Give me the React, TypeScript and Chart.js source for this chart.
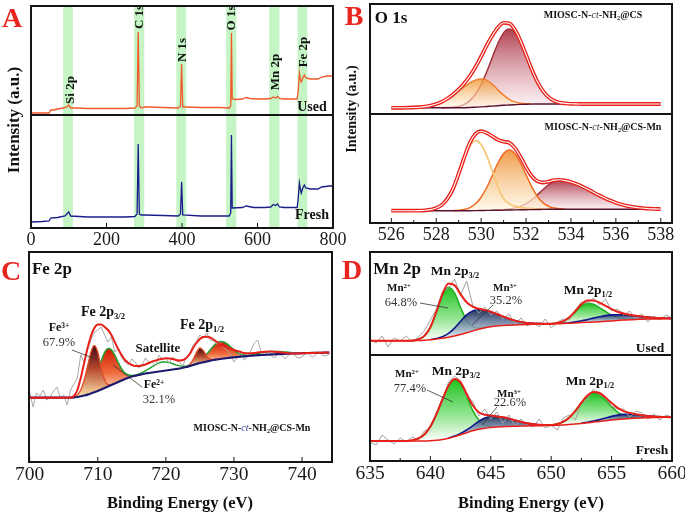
import React, { useEffect, useRef } from "react";
import { Chart, registerables } from "chart.js";
Chart.register(...registerables);

const SERIF = '"Liberation Serif", "Times New Roman", Times, serif';

// ================= Panel A : survey spectra =================
const surveyUsedEV = [0,30,48,52,60,70,85,95,100,105,120,150,200,250,275,281,284,287,292,300,310,350,390,396,399,402,410,450,500,525,529,531,533,545,560,570,580,600,620,635,642,648,653,658,670,690,705,708,711,714,716,720,724,728,740,760,770,785,800];
const surveyUsed = [2,2,2,5,5,6,7,8,10,7,7,6.5,6.5,6.5,7,9,83,9,7,8,8,7.5,7,9,51,8,8,7.5,7.5,7,9,82,16,15.5,16,17.5,16.5,16,16,16.5,18,17,18.5,16.5,16,16,16,25,42,35,33,37,40,37,36,36,38,39,39];
const surveyFreshEV = [0,30,48,52,70,90,100,105,150,200,250,275,281,284,287,292,300,350,390,396,399,402,450,500,525,529,531,533,560,570,590,620,635,642,648,653,658,670,705,708,711,714,716,720,724,728,740,760,770,790,800];
const surveyFresh = [6,6.5,7,10,10.5,12,16,12,11,11,11,11.5,14,84,14,13,13,12.5,12,14,46,13,12,12,12,15,93,20,20.5,22,20.5,20.5,21,23.5,22.5,24,21,20.5,20.5,30,45,38,35,40,43,40,39,39,41,42,42];
const bandLo = [85,273,385,517,631,706];
const bandHi = [111,300,411,544,658,732];
const A_OFF = 113;

// ================= Panel B : O 1s =================
const B_G0 = 526, B_ST = 0.25, B_OFF = 109;
const bTopBase = [6.2,6.2,6.2,6.2,6.2,6.2,6.2,6.2,6.2,6.2,6.2,6.2,6.2,6.3,6.5,6.8,7.1,7.5,7.9,8.3,8.7,9.0,9.3,9.6,9.8,9.9,10,10,10,10,10,10,10,10,10,10,10,10,10,10,10,10,10,10,10,10,10,10,10];
const bTopOrangeStart = 526.75;
const bTopOrange = [0.1,0.3,0.6,1.2,2.2,3.8,6.0,9.1,12.8,17.0,21.1,24.7,27.1,28,26.3,21.7,15.8,10.1,5.7,2.8,1.2,0.5,0.2];
const bTopRedStart = 528.25;
const bTopRed = [0.1,0.2,0.6,1.4,3.3,6.9,13.1,22.4,34.8,48.9,62.5,72.4,76,72.4,62.5,48.9,34.8,22.4,13.1,6.9,3.3,1.4,0.6,0.2,0.1];
const bBotBase = [12.3,12.3,12.3,12.3,12.3,12.3,12.3,12.3,12.3,12.3,12.3,12.3,12.3,12.3,12.3,12.4,12.5,12.6,12.7,12.8,12.9,13.0,13.1,13.2,13.3,13.4,13.5,13.6,13.7,13.7,13.7,13.7,13.7,13.7,13.7,13.7,13.7,13.7,13.7,13.7,13.7,13.7,13.7,13.7,13.7,13.7,13.7,13.7,13.7];
const bBotLightStart = 527.25;
const bBotLight = [0.1,0.4,1.1,2.6,5.8,12,22,36.5,52,65,70,66,54.5,39,23,11.5,6.3,3.7,2.3,1.5,0.9,0.6,0.4,0.2,0.1];
const bBotOrangeStart = 528.75;
const bBotOrange = [0.1,0.5,1.3,3.1,6.8,13.3,22.9,34.9,47.2,56.5,60,56.5,47.2,34.9,22.9,13.3,6.8,3.1,1.3,0.5,0.1];
const bBotRedStart = 530.5;
const bBotRed = [0.1,0.2,0.4,0.9,1.8,3.5,6.1,9.8,14.5,19.7,24.4,27.8,29,28.6,27.3,25.4,22.9,20.0,17.0,14.0,11.2,8.7,6.6,4.8,3.4,2.4,1.6,1.0,0.6,0.4,0.2];

// ================= Panel C : Fe 2p =================
const C_G0 = 700, C_ST = 0.5;
const cBase = [64.3,64.3,64.3,64.3,64.3,64.3,64.3,64.3,64.3,64.3,64.3,64.3,64.3,
  64.5,65,65.7,66.5,67.4,68.5,69.7,71,72.5,74,
  75.5,77,78.5,80,81.5,83,84.3,85.5,86.3,87,
  87.8,88.5,89,89.5,90,90.5,91,91.5,92,92.5,
  93,93.5,94.2,95,96,97,98,99,99.8,100.5,
  101.3,102,102.5,103,103.5,104,104.4,104.7,105,105.3,
  105.7,106,106.3,106.5,106.8,107,107.2,107.4,107.6,107.7,
  107.9,108,108.2,108.3,108.5,108.6,108.7,108.8,108.9,109,
  109.1,109.2,109.25,109.3,109.35,109.4];
const cEnv = [64.3,64.3,64.3,64.3,64.3,64.3,64.3,64.3,64.3,64.3,64.3,64.3,
  64.5,66,72,84,99,114,126,134,137.5,137.5,
  135,132,127,120,113,107,102,99,97,96,
  96,96.5,97.5,99,100.5,101.5,102.5,103.3,103.7,103.5,
  103,102,101.5,102,104,108,114,119,123,125,
  125.3,124.5,122.5,120,118,116,114.5,113.5,112,111,
  110,109,108.7,108.7,109,109.5,110,110.3,110.5,110.5,
  110.3,110,109.6,109.2,108.8,108.5,108.4,108.5,108.7,108.8,
  109,109,109.2,109.3,109.3,109.4,109.4];
const cRaw = [70,55,69,66,72,62,65,71,75,64,
  67,57,72,78,84,107,100,112,122,130,
  132,135,127,120,125,110,114,104,100,97,
  103,100,94,97,104,99,100,96,107,102,
  104,99,105,101,100,96,105,108,117,121,
  127,124,129,122,121,118,120,114,112,107,
  100,104,110,102,105,112,119,122,110,107,
  110,106,104,109,107,103,107,110,106,104,
  105,109,108,105,107,110,107,106,108];
const cFe3aStart = 706.5;
const cFe3a = [0.5,2.1,6.3,15.3,28.5,41.5,47,38.7,21.5,8.1,2.1,0.4];
const cFe2aStart = 707.5;
const cFe2a = [0.3,1.0,2.7,6.0,11.6,19.5,28.3,35.3,38,35.3,28.3,19.5,11.6,6.0,2.7,1.0,0.3];
const cSat1Start = 715.5;
const cSat1 = [0.4,0.8,1.5,2.7,4.1,5.8,7.4,8.6,9,8.6,7.4,5.8,4.1,2.7,1.5,0.8,0.4];
const cFe3bStart = 723;
const cFe3b = [0.3,1.5,5.4,11.6,15,11.6,5.4,1.5,0.3];
const cFe2bStart = 723.5;
const cFe2b = [0.2,0.5,1.2,2.4,4.4,7.2,10.6,14.0,16.6,17.5,16.6,14.0,10.6,7.2,4.4,2.4,1.2,0.5,0.2];
const cSat2Start = 732.5;
const cSat2 = [1.0,1.4,1.8,2.3,2.6,2.9,3,2.9,2.6,2.3,1.8,1.4,1.0];

// ================= Panel D : Mn 2p =================
const D_G0 = 635, D_ST = 0.5, D_OFF = 106;
const dTopBase = [14.3,14.3,14.3,14.3,14.3,14.3,14.3,14.3,
  14.5,14.8,15.3,16,16.8,17.8,19,20.5,22.2,24,
  25.8,27.2,28.2,28.9,29.4,29.8,30.1,30.3,30.5,30.7,
  30.9,31,31.1,31.3,31.5,31.8,32.1,32.4,32.7,33,
  33.3,33.7,34.1,34.5,34.9,35.2,35.5,35.7,35.9,36,
  36.1,36.2,36.3];
const dTopRaw = [16,12,19,8,17,14,19,13,18,24,35,46,63,67,76,60,74,50,42,48,40,44,36,41,31,37,29,33,28,36,27,33,36,35,45,53,52,57,50,56,44,46,40,44,36,41,33,39,35,40,37];
const dTopMn2aStart = 638.5;
const dTopMn2a = [0.2,1.1,4.3,12.5,27,42.9,50,42.9,27,12.5,4.3,1.1,0.2];
const dTopMn3aStart = 640;
const dTopMn3a = [0.1,0.5,1.5,3.8,7.9,13.2,18,20,19.4,17.6,15.1,12.1,9.2,6.5,4.3,2.7,1.6,0.9,0.5,0.2];
const dTopMn2bStart = 650;
const dTopMn2b = [0.1,0.6,2.1,5.5,10.9,16.5,19,17.7,14.1,9.8,5.8,3.0,1.3,0.5,0.2];
const dTopMn3bStart = 651;
const dTopMn3b = [0.3,0.5,1.0,1.8,2.7,3.9,4.9,5.7,6,5.8,5.3,4.5,3.6,2.7,2.0,1.3,0.8,0.5,0.3];
const dBotBase = [20,20,20,20,20,20,20,20,20,20,
  20.3,20.8,21.6,22.8,24.4,26.3,28.3,30.2,31.7,32.8,
  33.5,34,34.3,34.6,34.8,35,35.1,35.2,35.3,35.4,
  35.5,35.7,36,36.4,36.9,37.5,38.2,38.9,39.6,40.3,
  41,41.6,42.1,42.5,42.8,43.1,43.3,43.5,43.6,43.7,
  43.7];
const dBotRaw = [19,16,26,21,17,23,19,24,21,30,33,49,58,79,85,80,64,60,45,52,42,49,38,46,35,42,36,34,42,33,36,31,43,46,41,58,62,72,66,64,55,52,52,44,50,48,42,47,41,46,44];
const dBotMn2aStart = 638.5;
const dBotMn2a = [0.8,2.5,6.5,14.2,26.1,40.3,52.3,57,50.9,36.2,20.5,9.3,3.4,1.0];
const dBotMn3aStart = 641.5;
const dBotMn3a = [0.2,0.5,1.3,2.7,5.0,7.8,10.1,11,10.6,9.4,7.8,5.9,4.2,2.7,1.7,0.9,0.5];
const dBotMn2bStart = 650;
const dBotMn2b = [0.4,1.3,3.3,7.2,13.3,20.5,26.6,29,26.6,20.5,13.3,7.2,3.3,1.3,0.4];
const dBotMn3bStart = 652.5;
const dBotMn3b = [0.3,0.6,1.1,1.8,2.7,3.6,4.3,4.5,4.3,3.6,2.7,1.8,1.1,0.6,0.3];

// ================= helpers =================
type Pt = { x: number; y: number };
type Comp = [number, number[]];

function pairPts(xs: number[], ys: number[], off: number): Pt[] {
  return xs.map((x, i) => ({ x, y: ys[i] + off }));
}
function gridPts(g0: number, st: number, ys: number[], off: number): Pt[] {
  return ys.map((y, i) => ({ x: g0 + i * st, y: y + off }));
}
function onBase(x0: number, vals: number[], g0: number, st: number, base: number[], off: number): Pt[] {
  return vals.map((v, i) => {
    const x = x0 + i * st;
    const k = Math.round((x - g0) / st);
    return { x, y: base[k] + v + off };
  });
}
function envelope(base: number[], g0: number, st: number, comps: Comp[]): number[] {
  return base.map((b, k) => {
    const x = g0 + k * st;
    let s = b;
    comps.forEach(([x0, vals]) => {
      const j = Math.round((x - x0) / st);
      if (j >= 0 && j < vals.length) s += vals[j];
    });
    return s;
  });
}
function vgrad(stops: [number, string][], yTop: number, yBot: number) {
  return (c: any) => {
    const chart = c.chart;
    const ys = chart.scales && chart.scales.y;
    if (!ys || !chart.chartArea) return stops[0][1];
    const g = chart.ctx.createLinearGradient(0, ys.getPixelForValue(yTop), 0, ys.getPixelForValue(yBot));
    stops.forEach(([o, col]) => g.addColorStop(o, col));
    return g;
  };
}
function lineDS(data: Pt[], color: string, width: number, smooth = true): any {
  return {
    data, borderColor: color, borderWidth: width, pointRadius: 0, fill: false,
    cubicInterpolationMode: smooth ? "monotone" : "default", tension: 0,
  };
}
function compDS(x0: number, vals: number[], g0: number, st: number, base: number[], off: number,
  color: string, width: number, stops: [number, string][] | null, baseIdx: number): any {
  const data = onBase(x0, vals, g0, st, base, off);
  const yTop = Math.max(...data.map((p) => p.y));
  const yBot = Math.min(...vals.map((_, i) => base[Math.round((x0 + i * st - g0) / st)])) + off;
  return {
    data, borderColor: color, borderWidth: width, pointRadius: 0,
    cubicInterpolationMode: "monotone",
    fill: stops ? baseIdx : false,
    backgroundColor: stops ? vgrad(stops, yTop, yBot) : "transparent",
  };
}

const RED = "#e8201a";

// ---------- dataset builders ----------
function buildA(): any[] {
  return [
    lineDS(pairPts(surveyUsedEV, surveyUsed, A_OFF), "#f05a28", 1.3, false),
    lineDS(pairPts(surveyFreshEV, surveyFresh, 0), "#1c1c8c", 1.3, false),
  ];
}

function buildB(): any[] {
  const topEnv = envelope(bTopBase, B_G0, B_ST, [[bTopOrangeStart, bTopOrange], [bTopRedStart, bTopRed]]);
  const botEnv = envelope(bBotBase, B_G0, B_ST, [[bBotLightStart, bBotLight], [bBotOrangeStart, bBotOrange], [bBotRedStart, bBotRed]]);
  const orangeStops: [number, string][] = [[0, "rgba(240,150,50,0.85)"], [1, "rgba(255,246,228,0.55)"]];
  const redStops: [number, string][] = [[0, "rgba(172,56,72,0.95)"], [1, "rgba(252,236,240,0.6)"]];
  const orange2Stops: [number, string][] = [[0, "rgba(238,150,64,0.95)"], [1, "rgba(255,246,222,0.7)"]];
  return [
    lineDS(gridPts(B_G0, B_ST, topEnv, B_OFF), "#ffffff", 1.1),
    lineDS(gridPts(B_G0, B_ST, topEnv, B_OFF), RED, 3.8),
    lineDS(gridPts(B_G0, B_ST, botEnv, 0), "#ffffff", 1.1),
    lineDS(gridPts(B_G0, B_ST, botEnv, 0), RED, 3.8),
    lineDS(gridPts(B_G0, B_ST, bTopBase, B_OFF), "#5a1030", 1.4), // 4
    lineDS(gridPts(B_G0, B_ST, bBotBase, 0), "#5a1030", 1.4), // 5
    compDS(bTopOrangeStart, bTopOrange, B_G0, B_ST, bTopBase, B_OFF, "#f08030", 1.5, orangeStops, 4),
    compDS(bTopRedStart, bTopRed, B_G0, B_ST, bTopBase, B_OFF, "#a8303e", 1.5, redStops, 4),
    compDS(bBotLightStart, bBotLight, B_G0, B_ST, bBotBase, 0, "#f7c87a", 1.8, null, 5),
    compDS(bBotOrangeStart, bBotOrange, B_G0, B_ST, bBotBase, 0, "#f06a20", 1.5, orange2Stops, 5),
    compDS(bBotRedStart, bBotRed, B_G0, B_ST, bBotBase, 0, "#a8303e", 1.5, redStops, 5),
  ];
}

function buildC(): any[] {
  const fe3Stops: [number, string][] = [[0, "#3e0816"], [0.45, "#b8482e"], [1, "rgba(252,228,172,0.95)"]];
  const fe2Stops: [number, string][] = [[0, "#d01a08"], [0.5, "#ef6a3a"], [1, "rgba(255,236,216,0.9)"]];
  return [
    lineDS(gridPts(C_G0, C_ST, cEnv, 0), RED, 2),
    lineDS(gridPts(C_G0, C_ST, cBase, 0), "#1e1a6e", 2.2), // 1
    lineDS(gridPts(C_G0, C_ST, cRaw, 0), "#a8a8a8", 1, false),
    compDS(cSat1Start, cSat1, C_G0, C_ST, cBase, 0, "#22a030", 1.5, null, 1),
    compDS(cSat2Start, cSat2, C_G0, C_ST, cBase, 0, "#22a030", 1.5, null, 1),
    compDS(cFe3aStart, cFe3a, C_G0, C_ST, cBase, 0, "#e04a20", 1.3, fe3Stops, 1),
    compDS(cFe3bStart, cFe3b, C_G0, C_ST, cBase, 0, "#e04a20", 1.3, fe3Stops, 1),
    compDS(cFe2aStart, cFe2a, C_G0, C_ST, cBase, 0, "#22a030", 1.6, fe2Stops, 1),
    compDS(cFe2bStart, cFe2b, C_G0, C_ST, cBase, 0, "#22a030", 1.6, fe2Stops, 1),
  ];
}

function buildD(): any[] {
  const topEnv = envelope(dTopBase, D_G0, D_ST, [[dTopMn2aStart, dTopMn2a], [dTopMn3aStart, dTopMn3a], [dTopMn2bStart, dTopMn2b], [dTopMn3bStart, dTopMn3b]]);
  const botEnv = envelope(dBotBase, D_G0, D_ST, [[dBotMn2aStart, dBotMn2a], [dBotMn3aStart, dBotMn3a], [dBotMn2bStart, dBotMn2b], [dBotMn3bStart, dBotMn3b]]);
  const green: [number, string][] = [[0, "#1fc21f"], [0.55, "rgba(120,222,120,0.85)"], [1, "rgba(255,255,255,0.9)"]];
  const navy: [number, string][] = [[0, "#25365e"], [0.5, "rgba(120,140,172,0.85)"], [1, "rgba(245,248,252,0.9)"]];
  return [
    lineDS(gridPts(D_G0, D_ST, topEnv, D_OFF), RED, 2),
    lineDS(gridPts(D_G0, D_ST, botEnv, 0), RED, 2),
    lineDS(gridPts(D_G0, D_ST, dTopBase, D_OFF), RED, 1.5), // 2
    lineDS(gridPts(D_G0, D_ST, dBotBase, 0), RED, 1.5), // 3
    lineDS(gridPts(D_G0, D_ST, dTopRaw, D_OFF), "#a0a0a0", 1, false),
    lineDS(gridPts(D_G0, D_ST, dBotRaw, 0), "#a0a0a0", 1, false),
    compDS(dTopMn3aStart, dTopMn3a, D_G0, D_ST, dTopBase, D_OFF, "#10188a", 1.6, navy, 2),
    compDS(dTopMn3bStart, dTopMn3b, D_G0, D_ST, dTopBase, D_OFF, "#10188a", 1.6, navy, 2),
    compDS(dBotMn3aStart, dBotMn3a, D_G0, D_ST, dBotBase, 0, "#10188a", 1.6, navy, 3),
    compDS(dBotMn3bStart, dBotMn3b, D_G0, D_ST, dBotBase, 0, "#10188a", 1.6, navy, 3),
    compDS(dTopMn2aStart, dTopMn2a, D_G0, D_ST, dTopBase, D_OFF, "#22b022", 1.6, green, 2),
    compDS(dTopMn2bStart, dTopMn2b, D_G0, D_ST, dTopBase, D_OFF, "#22b022", 1.6, green, 2),
    compDS(dBotMn2aStart, dBotMn2a, D_G0, D_ST, dBotBase, 0, "#22b022", 1.6, green, 3),
    compDS(dBotMn2bStart, dBotMn2b, D_G0, D_ST, dBotBase, 0, "#22b022", 1.6, green, 3),
  ];
}

// ---------- frame plugin ----------
function makeFrame(divider: number | null, bands: [number, number][]) {
  return {
    id: "frame",
    beforeDatasetsDraw(chart: any) {
      const { ctx, chartArea: ca, scales } = chart;
      const x = scales.x;
      ctx.save();
      ctx.fillStyle = "rgba(150,236,150,0.55)";
      bands.forEach(([a, b]) => {
        const xa = x.getPixelForValue(a), xb = x.getPixelForValue(b);
        ctx.fillRect(xa, ca.top, xb - xa, ca.bottom - ca.top);
      });
      ctx.restore();
    },
    afterDatasetsDraw(chart: any) {
      const { ctx, chartArea: ca, scales } = chart;
      const x = scales.x, y = scales.y;
      ctx.save();
      ctx.strokeStyle = "#151515";
      ctx.lineWidth = 2;
      ctx.strokeRect(ca.left, ca.top, ca.right - ca.left, ca.bottom - ca.top);
      if (divider !== null) {
        const yy = y.getPixelForValue(divider);
        ctx.beginPath();
        ctx.moveTo(ca.left, yy);
        ctx.lineTo(ca.right, yy);
        ctx.stroke();
      }
      ctx.lineWidth = 1;
      x.ticks.forEach((t: any) => {
        const px = x.getPixelForValue(t.value);
        const major = t.label !== "";
        ctx.beginPath();
        ctx.moveTo(px, ca.bottom);
        ctx.lineTo(px, ca.bottom - (major ? 5 : 3));
        ctx.stroke();
      });
      ctx.restore();
    },
  };
}

const PADX = 22, PADT = 2, AXH = 28;

interface PanelProps {
  box: [number, number, number, number];
  xMin: number; xMax: number; step: number; labelStep: number; tickSize: number;
  yMax: number; divider: number | null; bands: [number, number][];
  build: () => any[];
}

function Panel({ box, xMin, xMax, step, labelStep, tickSize, yMax, divider, bands, build }: PanelProps) {
  const ref = useRef<HTMLCanvasElement>(null);
  const [L, T, R, B] = box;
  const w = R - L + 2 * PADX;
  const h = B - T + PADT + AXH;
  useEffect(() => {
    const chart = new Chart(ref.current as HTMLCanvasElement, {
      type: "line",
      data: { datasets: build() },
      options: {
        responsive: false,
        animation: false,
        devicePixelRatio: 1,
        events: [],
        layout: { padding: { left: PADX, right: PADX, top: PADT, bottom: 0 } },
        plugins: { legend: { display: false }, tooltip: { enabled: false } },
        scales: {
          x: {
            type: "linear", min: xMin, max: xMax,
            grid: { display: false, drawTicks: false },
            border: { display: false },
            ticks: {
              stepSize: step, includeBounds: false, autoSkip: false, maxRotation: 0, minRotation: 0,
              padding: 1, color: "#1a1a1a", font: { family: SERIF, size: tickSize },
              callback: (v: any) => {
                const n = Number(v);
                return Math.abs(n / labelStep - Math.round(n / labelStep)) < 1e-6 ? String(Math.round(n)) : "";
              },
            },
            afterFit: (s: any) => { s.height = AXH; },
          },
          y: { type: "linear", display: false, min: 0, max: yMax },
        },
      } as any,
      plugins: [makeFrame(divider, bands)],
    });
    return () => chart.destroy();
  }, []);
  return (
    <canvas ref={ref} width={w} height={h}
      style={{ position: "absolute", left: L - PADX, top: T - PADT, width: w, height: h }} />
  );
}

// ---------- text ----------
function Tx(p: { x: number; y: number; s: number; b?: boolean; c?: string; r?: boolean; children: any }) {
  const { x, y, s, b = true, c = "#111", r = false, children } = p;
  return (
    <div style={{
      position: "absolute", left: x, top: y,
      transform: `translate(-50%,-50%)${r ? " rotate(-90deg)" : ""}`,
      fontFamily: SERIF, fontSize: s, fontWeight: b ? "bold" : "normal", color: c,
      whiteSpace: "nowrap", lineHeight: 1,
    }}>{children}</div>
  );
}
const Sub = ({ children }: { children: any }) => (
  <span style={{ fontSize: "0.62em", position: "relative", top: "0.3em" }}>{children}</span>
);
const Sup = ({ children }: { children: any }) => (
  <span style={{ fontSize: "0.62em", position: "relative", top: "-0.45em" }}>{children}</span>
);
const Miosc = ({ mn, ct }: { mn: boolean; ct: string }) => (
  <>MIOSC-N-<i style={{ color: ct, fontWeight: "normal" }}>ct</i>-NH<Sub>2</Sub>@CS{mn ? "-Mn" : ""}</>
);

const bandsA: [number, number][] = bandLo.map((lo, i) => [lo, bandHi[i]] as [number, number]);

export default function App() {
  const letter = "#e8251f";
  return (
    <div style={{ position: "absolute", left: 0, top: 0, width: 685, height: 518, background: "#fff", overflow: "hidden" }}>
      <Panel box={[31, 6, 333, 228]} xMin={0} xMax={800} step={200} labelStep={200} tickSize={18} yMax={222} divider={A_OFF} bands={bandsA} build={buildA} />
      <Panel box={[370, 4, 672, 223]} xMin={525.05} xMax={538.5} step={1} labelStep={2} tickSize={18} yMax={219} divider={B_OFF} bands={[]} build={buildB} />
      <Panel box={[29, 252, 332, 462]} xMin={699.9} xMax={744.4} step={10} labelStep={10} tickSize={19.5} yMax={210} divider={null} bands={[]} build={buildC} />
      <Panel box={[370, 252, 672, 461]} xMin={635} xMax={660} step={2.5} labelStep={5} tickSize={19.5} yMax={209} divider={D_OFF} bands={[]} build={buildD} />

      {/* panel letters */}
      <Tx x={12} y={18} s={28} c={letter}>A</Tx>
      <Tx x={354} y={16} s={28} c={letter}>B</Tx>
      <Tx x={11} y={271} s={28} c={letter}>C</Tx>
      <Tx x={352} y={270} s={28} c={letter}>D</Tx>

      {/* axis titles */}
      <Tx x={13} y={120} s={17} r>Intensity (a.u.)</Tx>
      <Tx x={352} y={109} s={14} r>Intensity (a.u.)</Tx>
      <Tx x={180} y={503} s={16.5}>Binding Energy (eV)</Tx>
      <Tx x={531} y={503} s={16.5}>Binding Energy (eV)</Tx>

      {/* Panel A labels */}
      <Tx x={69} y={90} s={13} r>Si 2p</Tx>
      <Tx x={138} y={17} s={13} r>C 1s</Tx>
      <Tx x={181} y={50} s={13} r>N 1s</Tx>
      <Tx x={230} y={18} s={13} r>O 1s</Tx>
      <Tx x={274} y={72} s={13} r>Mn 2p</Tx>
      <Tx x={302} y={52} s={13} r>Fe 2p</Tx>
      <Tx x={312} y={107} s={14}>Used</Tx>
      <Tx x={312} y={215} s={14}>Fresh</Tx>

      {/* Panel B labels */}
      <Tx x={391} y={17} s={17}>O 1s</Tx>
      <Tx x={593} y={15} s={10}><Miosc mn={false} ct="#333" /></Tx>
      <Tx x={603} y={127} s={10}><Miosc mn={true} ct="#333" /></Tx>

      {/* Panel C labels */}
      <Tx x={52} y={268} s={17}>Fe 2p</Tx>
      <Tx x={103} y={312} s={14}>Fe 2p<Sub>3/2</Sub></Tx>
      <Tx x={59} y={327} s={12}>Fe<Sup>3+</Sup></Tx>
      <Tx x={59} y={342} s={12.5} b={false} c="#333">67.9%</Tx>
      <Tx x={158} y={347} s={13}>Satellite</Tx>
      <Tx x={202} y={325} s={14}>Fe 2p<Sub>1/2</Sub></Tx>
      <Tx x={154} y={384} s={12}>Fe<Sup>2+</Sup></Tx>
      <Tx x={159} y={399} s={12.5} b={false} c="#333">32.1%</Tx>
      <Tx x={252} y={428} s={10}><Miosc mn={true} ct="#3a3aa0" /></Tx>

      {/* Panel D labels */}
      <Tx x={397} y={268} s={17}>Mn 2p</Tx>
      <Tx x={455} y={271} s={13.5}>Mn 2p<Sub>3/2</Sub></Tx>
      <Tx x={399} y={287} s={11}>Mn<Sup>2+</Sup></Tx>
      <Tx x={401} y={302} s={12.5} b={false} c="#333">64.8%</Tx>
      <Tx x={505} y={287} s={11}>Mn<Sup>3+</Sup></Tx>
      <Tx x={506} y={300} s={12.5} b={false} c="#333">35.2%</Tx>
      <Tx x={588} y={290} s={13.5}>Mn 2p<Sub>1/2</Sub></Tx>
      <Tx x={650} y={348} s={13.5}>Used</Tx>
      <Tx x={456} y={371} s={13.5}>Mn 2p<Sub>3/2</Sub></Tx>
      <Tx x={407} y={373} s={11}>Mn<Sup>2+</Sup></Tx>
      <Tx x={410} y={388} s={12.5} b={false} c="#333">77.4%</Tx>
      <Tx x={509} y={393} s={11}>Mn<Sup>3+</Sup></Tx>
      <Tx x={510} y={402} s={12.5} b={false} c="#333">22.6%</Tx>
      <Tx x={590} y={381} s={13.5}>Mn 2p<Sub>1/2</Sub></Tx>
      <Tx x={652} y={450} s={13.5}>Fresh</Tx>

      {/* leader lines */}
      <svg width={685} height={518} style={{ position: "absolute", left: 0, top: 0, pointerEvents: "none" }}>
        <g stroke="#333" strokeWidth={0.8}>
          <line x1={72} y1={350} x2={93} y2={358} />
          <line x1={142} y1={387} x2={113} y2={365} />
          <line x1={420} y1={303} x2={448} y2={308} />
          <line x1={493} y1={305} x2={472} y2={325} />
          <line x1={427} y1={390} x2={453} y2={402} />
          <line x1={497} y1={407} x2={482} y2={425} />
        </g>
      </svg>
    </div>
  );
}
